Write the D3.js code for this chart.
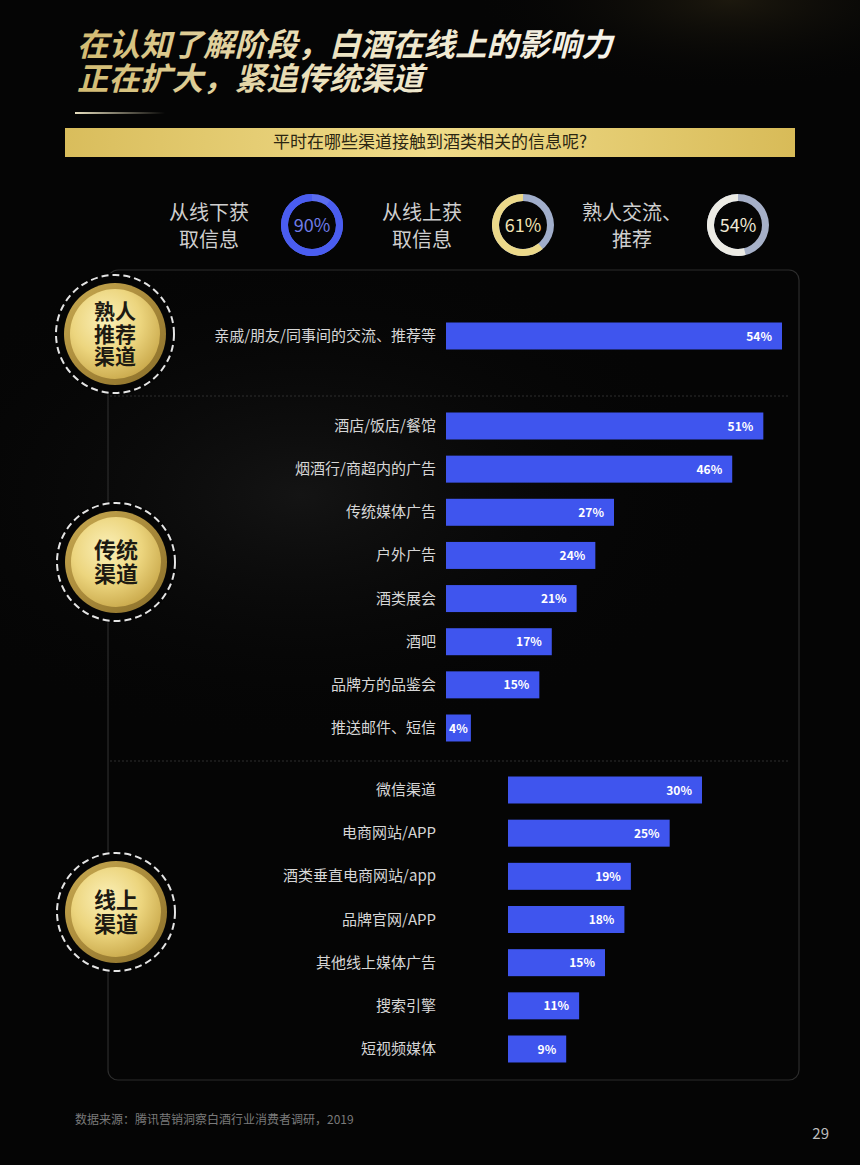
<!DOCTYPE html>
<html><head><meta charset="utf-8">
<script src="https://cdn.jsdelivr.net/npm/d3@7"></script>
<style>
html,body{margin:0;padding:0;background:#050505;}
svg{display:block;}
</style></head>
<body>
<script>
// ---------- DATA ----------
const titleLines = ["在认知了解阶段，白酒在线上的影响力", "正在扩大，紧追传统渠道"];
const questionText = "平时在哪些渠道接触到酒类相关的信息呢?";
const donutLabels = [["从线下获", "取信息"], ["从线上获", "取信息"], ["熟人交流、", "推荐"]];
const donutValues = [90, 61, 54];
const badgeLabels = [["熟人", "推荐", "渠道"], ["传统", "渠道"], ["线上", "渠道"]];
const g1Labels = ["亲戚/朋友/同事间的交流、推荐等"];
const g1Values = [54];
const g2Labels = ["酒店/饭店/餐馆", "烟酒行/商超内的广告", "传统媒体广告", "户外广告", "酒类展会", "酒吧", "品牌方的品鉴会", "推送邮件、短信"];
const g2Values = [51, 46, 27, 24, 21, 17, 15, 4];
const g3Labels = ["微信渠道", "电商网站/APP", "酒类垂直电商网站/app", "品牌官网/APP", "其他线上媒体广告", "搜索引擎", "短视频媒体"];
const g3Values = [30, 25, 19, 18, 15, 11, 9];
const sourceText = "数据来源：腾讯营销洞察白酒行业消费者调研，2019";
const pageNum = "29";

// ---------- SETUP ----------
const W = 860, H = 1165;
const FONT = "'Noto Sans CJK SC','Noto Sans',sans-serif";
const TIGHT = "Lato,'Noto Sans CJK SC',sans-serif";
const svg = d3.select("body").append("svg").attr("width", W).attr("height", H)
  .style("font-family", FONT);
const defs = svg.append("defs");

// background
const bgG = defs.append("radialGradient").attr("id", "bgGlow").attr("cx", "0.85").attr("cy", "0.0").attr("r", "0.3");
bgG.append("stop").attr("offset", "0").attr("stop-color", "#221d10");
bgG.append("stop").attr("offset", "1").attr("stop-color", "#050505").attr("stop-opacity", 0);
svg.append("rect").attr("width", W).attr("height", H).attr("fill", "#050505");
svg.append("rect").attr("width", W).attr("height", 300).attr("fill", "url(#bgGlow)").attr("opacity", 0.8);
const bgG2 = defs.append("radialGradient").attr("id", "bgGlow2").attr("cx", "0.35").attr("cy", "0.45").attr("r", "0.5");
bgG2.append("stop").attr("offset", "0").attr("stop-color", "#141414");
bgG2.append("stop").attr("offset", "1").attr("stop-color", "#050505").attr("stop-opacity", 0);
svg.append("rect").attr("x", 0).attr("y", 270).attr("width", W).attr("height", 500).attr("fill", "url(#bgGlow2)");

// ---------- TITLE ----------
const tGrad = defs.append("linearGradient").attr("id", "titleGrad").attr("gradientUnits", "userSpaceOnUse")
  .attr("x1", 77).attr("x2", 620).attr("y1", 0).attr("y2", 0);
tGrad.append("stop").attr("offset", "0").attr("stop-color", "#d2bb70");
tGrad.append("stop").attr("offset", "0.45").attr("stop-color", "#ebe2bf");
tGrad.append("stop").attr("offset", "1").attr("stop-color", "#f6f4ec");
svg.selectAll("text.title").data(titleLines).join("text").attr("class", "title")
  .attr("x", 77).attr("y", (d, i) => 56 + i * 34)
  .style("font-family", TIGHT)
  .attr("font-size", 31.5).attr("font-weight", "bold").attr("font-style", "italic")
  .attr("fill", "url(#titleGrad)").text(d => d);
const uGrad = defs.append("linearGradient").attr("id", "ulGrad");
uGrad.append("stop").attr("offset", "0").attr("stop-color", "#e8e0c0");
uGrad.append("stop").attr("offset", "1").attr("stop-color", "#e8e0c0").attr("stop-opacity", 0);
svg.append("rect").attr("x", 75).attr("y", 112).attr("width", 90).attr("height", 2).attr("fill", "url(#ulGrad)");

// ---------- BANNER ----------
const bGrad = defs.append("linearGradient").attr("id", "bannerGrad");
bGrad.append("stop").attr("offset", "0").attr("stop-color", "#d9bd5c");
bGrad.append("stop").attr("offset", "0.5").attr("stop-color", "#f0dc8a");
bGrad.append("stop").attr("offset", "1").attr("stop-color", "#d8bb58");
svg.append("rect").attr("x", 65).attr("y", 128).attr("width", 730).attr("height", 29).attr("fill", "url(#bannerGrad)");
svg.append("text").attr("x", 430).attr("y", 148).attr("text-anchor", "middle")
  .attr("font-size", 17).attr("fill", "#2b2612").text(questionText);

// ---------- DONUTS ----------
const donutCx = [312, 523, 738];
const donutLabelCx = [209, 422, 632];
const donutColors = ["#4a5df0", "#ecd98a", "#ecebe4"];
const donutTrack = ["#5a6cf0", "#a1aecb", "#a6b0c8"];
const donutText = ["#6f7ce8", "#f1e3b3", "#efe9d6"];
const arc = d3.arc().innerRadius(24).outerRadius(31);
donutValues.forEach((v, i) => {
  const g = svg.append("g").attr("transform", `translate(${donutCx[i]},225)`);
  g.append("path").attr("d", arc({startAngle: 0, endAngle: 2 * Math.PI})).attr("fill", donutTrack[i]);
  const a = v / 100 * 2 * Math.PI;
  g.append("path").attr("d", arc({startAngle: -a, endAngle: 0})).attr("fill", donutColors[i]);
  g.append("text").attr("y", 7).attr("text-anchor", "middle").attr("font-size", 18)
    .attr("fill", donutText[i]).text(v + "%");
  svg.append("g").selectAll("text").data(donutLabels[i]).join("text")
    .attr("x", donutLabelCx[i]).attr("y", (d, k) => 220 + k * 27)
    .attr("text-anchor", "middle").attr("font-size", 20).attr("fill", "#cfcfcf").text(d => d);
});

// ---------- PANEL ----------
svg.append("rect").attr("x", 108).attr("y", 270).attr("width", 691).attr("height", 810).attr("rx", 10)
  .attr("fill", "none").attr("stroke", "#2c2c2c").attr("stroke-width", 1.2);
[396, 761].forEach(y => {
  svg.append("line").attr("x1", 110).attr("x2", 790).attr("y1", y).attr("y2", y)
    .attr("stroke", "#2e2e2e").attr("stroke-width", 1).attr("stroke-dasharray", "2,2");
});

// ---------- BARS ----------
const xA = d3.scaleLinear().domain([0, 54]).range([446, 782]);
const xB = d3.scaleLinear().domain([0, 30]).range([508, 702]);
const BAR_H = 27;
function drawGroup(labels, values, x, y0, y1) {
  const y = d3.scalePoint().domain(labels).range([y0, y1]);
  const g = svg.append("g");
  labels.forEach((lab, i) => {
    const cy = y(lab);
    const v = values[i];
    const w = x(v) - x(0);
    g.append("rect").attr("x", x(0)).attr("y", cy - BAR_H / 2).attr("width", w).attr("height", BAR_H)
      .attr("fill", "#3f55ee");
    g.append("text").attr("x", 436).attr("y", cy + 5).attr("text-anchor", "end")
      .attr("font-size", 15).attr("fill", "#d6d6d6").text(lab);
    g.append("text").attr("x", w < 40 ? x(0) + w / 2 : x(v) - 10).attr("y", cy + 4.5)
      .attr("text-anchor", w < 40 ? "middle" : "end")
      .attr("font-size", 12).attr("font-weight", "bold").attr("fill", "#ffffff").text(v + "%");
  });
}
drawGroup(g1Labels, g1Values, xA, 336, 336);
drawGroup(g2Labels, g2Values, xA, 426, 728);
drawGroup(g3Labels, g3Values, xB, 790, 1049);

// ---------- BADGES ----------
const goldRing = defs.append("linearGradient").attr("id", "goldRing").attr("x1", 0).attr("y1", 0).attr("x2", 1).attr("y2", 1);
goldRing.append("stop").attr("offset", "0").attr("stop-color", "#c9ab52");
goldRing.append("stop").attr("offset", "0.5").attr("stop-color", "#a8893a");
goldRing.append("stop").attr("offset", "1").attr("stop-color", "#8a6f2a");
const goldDisc = defs.append("radialGradient").attr("id", "goldDisc").attr("cx", "0.4").attr("cy", "0.35").attr("r", "0.7");
goldDisc.append("stop").attr("offset", "0").attr("stop-color", "#fbf0b8");
goldDisc.append("stop").attr("offset", "0.55").attr("stop-color", "#ecd57e");
goldDisc.append("stop").attr("offset", "1").attr("stop-color", "#c9a84a");
const badgeCenters = [[115, 334], [116, 562], [116, 912]];
const badgeFont = [21, 22, 22];
badgeLabels.forEach((lines, i) => {
  const [cx, cy] = badgeCenters[i];
  const g = svg.append("g").attr("transform", `translate(${cx},${cy})`);
  g.append("circle").attr("r", 61).attr("fill", "#050505");
  g.append("circle").attr("r", 59).attr("fill", "none").attr("stroke", "#e4e4e4")
    .attr("stroke-width", 2).attr("stroke-dasharray", "7,4");
  g.append("circle").attr("r", 51).attr("fill", "url(#goldRing)");
  g.append("circle").attr("r", 45).attr("fill", "url(#goldDisc)");
  const step = lines.length === 3 ? 22.5 : 24;
  g.selectAll("text").data(lines).join("text")
    .style("font-family", TIGHT)
    .attr("text-anchor", "middle").attr("font-size", badgeFont[i])
    .attr("font-weight", "bold").attr("fill", "#1d1a12")
    .attr("y", (d, k) => (k - (lines.length - 1) / 2) * step + badgeFont[i] * 0.36)
    .text(d => d);
});

// ---------- FOOTER ----------
svg.append("text").attr("x", 75).attr("y", 1124).attr("font-size", 12).attr("fill", "#7a7a7a").text(sourceText);
svg.append("text").attr("x", 829).attr("y", 1139).attr("text-anchor", "end").attr("font-size", 15).attr("fill", "#bdbdbd").text(pageNum);
</script>
</body></html>
